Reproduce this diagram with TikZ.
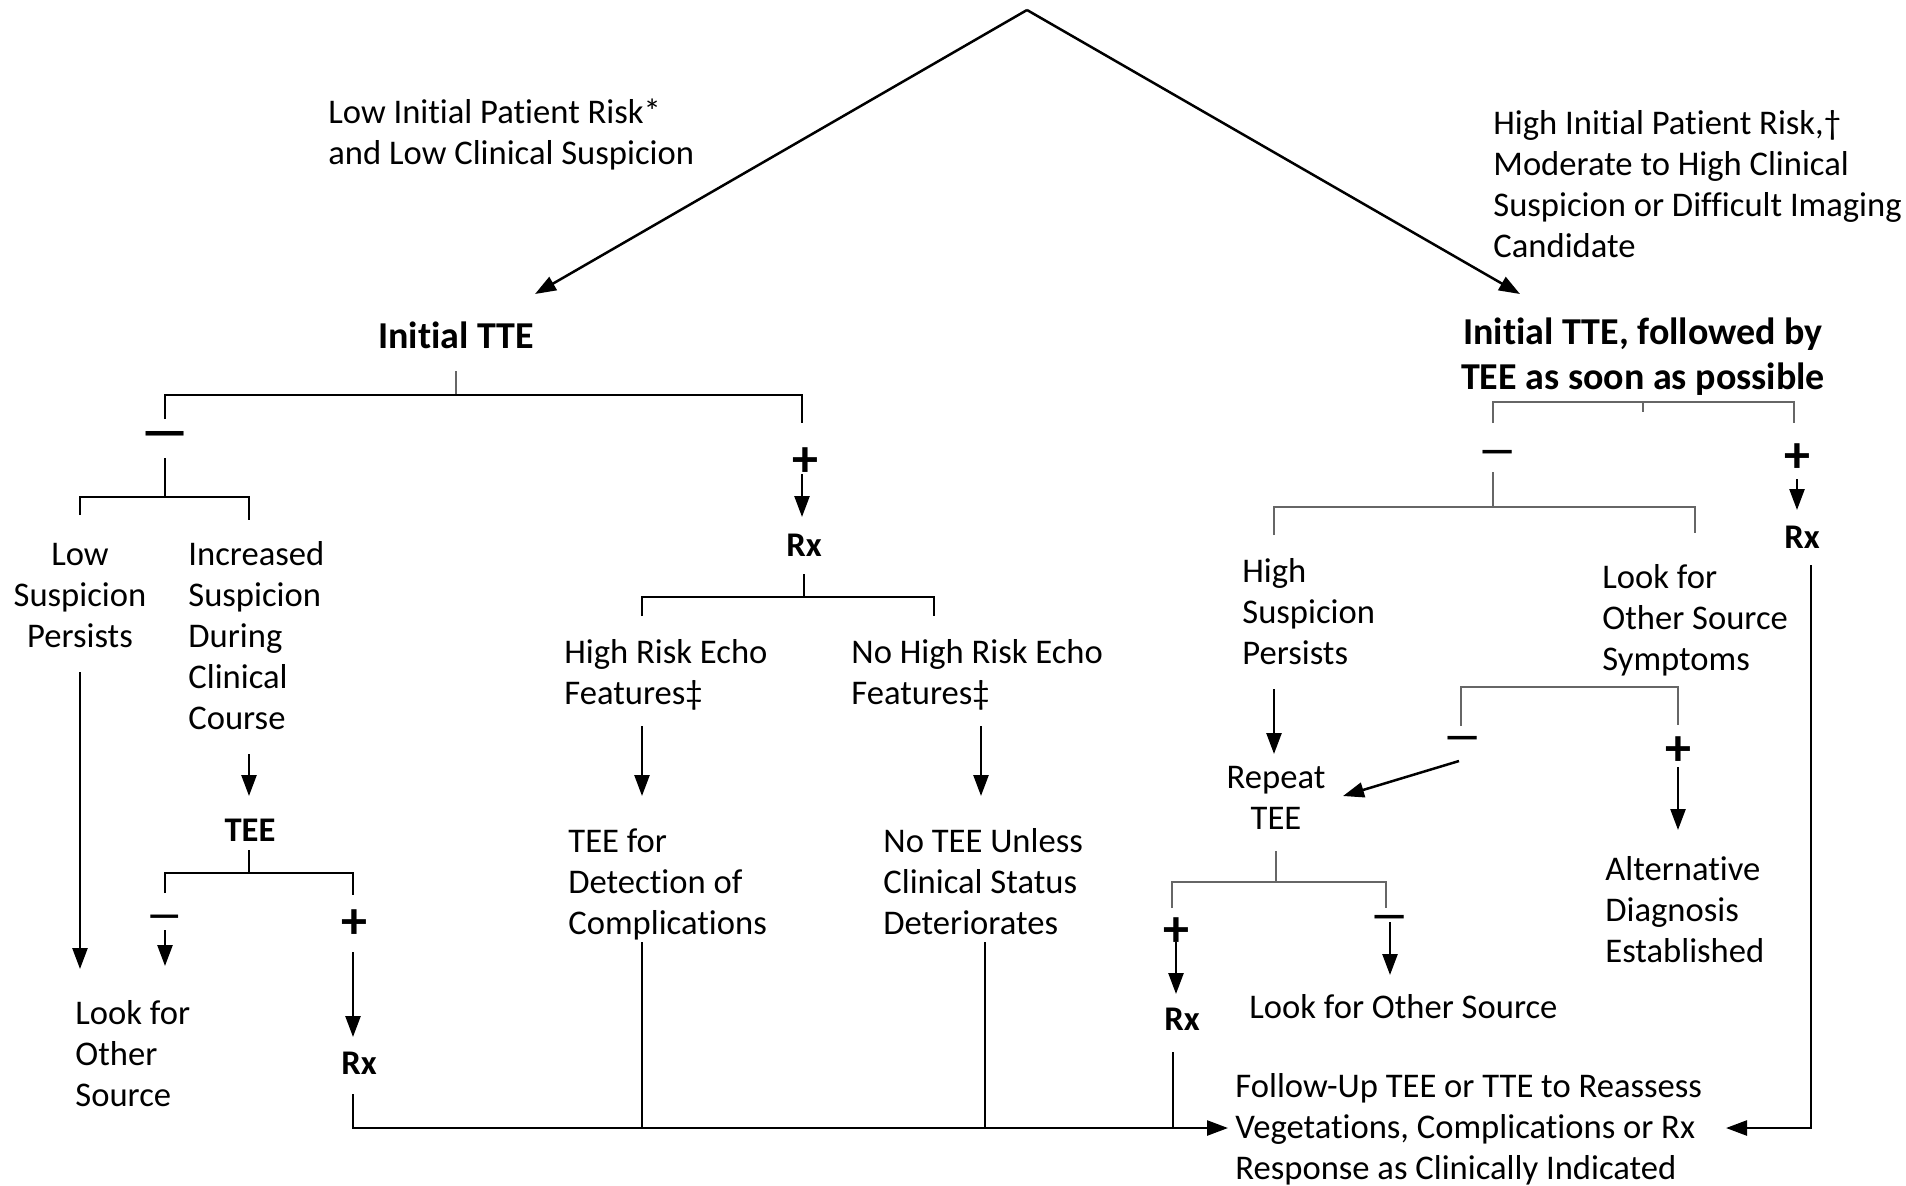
\documentclass[tikz,border=0pt]{standalone}
\usepackage{fontspec}
\setmainfont{Carlito}[Ligatures=NoCommon]
\usetikzlibrary{arrows.meta}
\tikzset{
 txt/.style={font=\fontsize{17.3}{20.5}\selectfont, inner sep=0pt, align=left, anchor=base west},
 ctxt/.style={txt, align=center, anchor=base},
 head/.style={font=\bfseries\fontsize{19}{22.5}\selectfont, inner sep=0pt, align=center, anchor=base},
 bld/.style={font=\bfseries\fontsize{17.3}{20.5}\selectfont, inner sep=0pt, anchor=base},
 sgn/.style={font=\bfseries\fontsize{26}{26}\selectfont, inner sep=0pt, anchor=center},
 msgn/.style={font=\bfseries\fontsize{20}{20}\selectfont, inner sep=0pt, anchor=center},
 arr/.style={line width=1.25pt, -{Triangle[length=10.5pt,width=7.5pt]}},
 ln/.style={line width=1.25pt},
 brk/.style={line width=1pt, black!60},
}
\begin{document}
\begin{tikzpicture}[x=0.5pt,y=-0.5pt]
\useasboundingbox (0,0) rectangle (1906,1185);
% ---------- top ----------
\coordinate (apex) at (1027,10);
\coordinate (aL) at (535,294);
\coordinate (aR) at (1520,294);
\draw[arr] (apex) -- (aL);
\draw[arr] (apex) -- (aR);
\node[txt] (lowrisk) at (328,164) {Low Initial Patient Risk*\\and Low Clinical Suspicion};
\node[txt] (highrisk) at (1493,257) {High Initial Patient Risk,†\\Moderate to High Clinical\\Suspicion or Difficult Imaging\\Candidate};
\node[head] (itte) at (456,348) {Initial TTE};
\node[head] (htte) at (1643,389) {Initial TTE, followed by\\TEE as soon as possible};
% ---------- left tree ----------
\coordinate (b1s) at (456,371);
\coordinate (b1c) at (456,395);
\coordinate (b1l) at (165,395);
\coordinate (b1r) at (802,395);
\coordinate (b1ld) at (165,419);
\coordinate (b1rd) at (802,423);
\draw[brk] (b1s) -- (b1c);
\draw[ln] (b1ld) -- (b1l) -- (b1r) -- (b1rd);
\node[font=\bfseries\fontsize{26}{26}\selectfont, inner sep=0pt] (m1) at (165,440) {—};
\coordinate (b2s) at (165,458);
\coordinate (b2c) at (165,497);
\coordinate (b2l) at (80,497);
\coordinate (b2r) at (249,497);
\coordinate (b2ld) at (80,515);
\coordinate (b2rd) at (249,520);
\draw[ln] (b2s) -- (b2c);
\draw[ln] (b2ld) -- (b2l) -- (b2r) -- (b2rd);
\node[ctxt] (lowsus) at (80,647) {Low\\Suspicion\\Persists};
\node[txt] (incsus) at (188,729) {Increased\\Suspicion\\During\\Clinical\\Course};
\coordinate (a1s) at (80,672);
\coordinate (a1e) at (80,969);
\draw[arr] (a1s) -- (a1e);
\coordinate (a2s) at (249,754);
\coordinate (a2e) at (249,796);
\draw[arr] (a2s) -- (a2e);
\node[bld] (tee1) at (250,841) {TEE};
\coordinate (b3s) at (249,850);
\coordinate (b3c) at (249,873);
\coordinate (b3l) at (165,873);
\coordinate (b3r) at (353,873);
\coordinate (b3ld) at (165,893);
\coordinate (b3rd) at (353,895);
\draw[ln] (b3s) -- (b3c);
\draw[ln] (b3ld) -- (b3l) -- (b3r) -- (b3rd);
\node[font=\bfseries\fontsize{19}{19}\selectfont, inner sep=0pt] (m2) at (165,921) {—};
\coordinate (a3s) at (165,930);
\coordinate (a3e) at (165,966);
\draw[arr] (a3s) -- (a3e);
\node[sgn] (p2) at (354,924) {+};
\coordinate (a4s) at (353,952);
\coordinate (a4e) at (353,1037);
\draw[arr] (a4s) -- (a4e);
\node[bld] (rx1) at (359,1074) {Rx};
\node[txt] (look1) at (75,1106) {Look for\\Other\\Source};
% ---------- centre tree ----------
\node[sgn] (p1) at (805,462) {+};
\coordinate (a5s) at (802,474);
\coordinate (a5e) at (802,517);
\draw[arr] (a5s) -- (a5e);
\node[bld] (rx2) at (804,556) {Rx};
\coordinate (b4s) at (804,574);
\coordinate (b4c) at (804,597);
\coordinate (b4l) at (642,597);
\coordinate (b4r) at (934,597);
\coordinate (b4ld) at (642,616);
\coordinate (b4rd) at (934,616);
\draw[ln] (b4s) -- (b4c);
\draw[ln] (b4ld) -- (b4l) -- (b4r) -- (b4rd);
\node[txt] (hre) at (564,704) {High Risk Echo\\Features‡};
\node[txt] (nhre) at (851,704) {No High Risk Echo\\Features‡};
\coordinate (a6s) at (642,726);
\coordinate (a6e) at (642,796);
\draw[arr] (a6s) -- (a6e);
\coordinate (a7s) at (981,726);
\coordinate (a7e) at (981,796);
\draw[arr] (a7s) -- (a7e);
\node[txt] (teefor) at (568,934) {TEE for\\Detection of\\Complications};
\node[txt] (noteee) at (883,934) {No TEE Unless\\Clinical Status\\Deteriorates};
% ---------- right tree ----------
\coordinate (b5l) at (1493,402);
\coordinate (b5r) at (1794,402);
\coordinate (b5t) at (1643,402);
\coordinate (b5td) at (1643,412);
\coordinate (b5ld) at (1493,423);
\coordinate (b5rd) at (1794,423);
\draw[brk] (b5ld) -- (b5l) -- (b5r) -- (b5rd);
\draw[brk] (b5t) -- (b5td);
\node[msgn] (m3) at (1498,457) {—};
\node[sgn] (p3) at (1797,458) {+};
\coordinate (a8s) at (1797,479);
\coordinate (a8e) at (1797,510);
\draw[arr] (a8s) -- (a8e);
\node[bld] (rx3) at (1802,548) {Rx};
\coordinate (b6s) at (1493,472);
\coordinate (b6c) at (1493,507);
\coordinate (b6l) at (1274,507);
\coordinate (b6r) at (1695,507);
\coordinate (b6ld) at (1274,535);
\coordinate (b6rd) at (1695,533);
\draw[brk] (b6s) -- (b6c);
\draw[brk] (b6ld) -- (b6l) -- (b6r) -- (b6rd);
\node[txt] (hsp) at (1242,664) {High\\Suspicion\\Persists};
\node[txt] (lfos) at (1602,670) {Look for\\Other Source\\Symptoms};
\coordinate (a9s) at (1274,689);
\coordinate (a9e) at (1274,754);
\draw[arr] (a9s) -- (a9e);
\coordinate (b7l) at (1461,687);
\coordinate (b7r) at (1678,687);
\coordinate (b7ld) at (1461,726);
\coordinate (b7rd) at (1678,725);
\draw[brk] (b7ld) -- (b7l) -- (b7r) -- (b7rd);
\node[msgn] (m4) at (1463,743) {—};
\node[sgn] (p4) at (1678,751) {+};
\coordinate (a10s) at (1678,767);
\coordinate (a10e) at (1678,830);
\draw[arr] (a10s) -- (a10e);
\coordinate (a11s) at (1459,761);
\coordinate (a11e) at (1343,796);
\draw[arr] (a11s) -- (a11e);
\node[ctxt] (rtee) at (1276,829) {Repeat\\TEE};
\node[txt] (alt) at (1605,962) {Alternative\\Diagnosis\\Established};
\coordinate (b8s) at (1276,851);
\coordinate (b8c) at (1276,882);
\coordinate (b8l) at (1172,882);
\coordinate (b8r) at (1386,882);
\coordinate (b8ld) at (1172,908);
\coordinate (b8rd) at (1386,908);
\draw[brk] (b8s) -- (b8c);
\draw[brk] (b8ld) -- (b8l) -- (b8r) -- (b8rd);
\node[sgn] (p5) at (1176,932) {+};
\coordinate (a12s) at (1176,942);
\coordinate (a12e) at (1176,994);
\draw[arr] (a12s) -- (a12e);
\node[msgn] (m5) at (1390,922) {—};
\coordinate (a13s) at (1390,922);
\coordinate (a13e) at (1390,975);
\draw[arr] (a13s) -- (a13e);
\node[bld] (rx4) at (1182,1030) {Rx};
\node[txt] (look2) at (1249,1018) {Look for Other Source};
% ---------- bottom ----------
\node[txt] (fu) at (1235,1179) {Follow-Up TEE or TTE to Reassess\\Vegetations, Complications or Rx\\Response as Clinically Indicated};
\coordinate (c1) at (353,1094);
\coordinate (c2) at (353,1128);
\coordinate (c3) at (1228,1128);
\draw[arr] (c1) -- (c2) -- (c3);
\coordinate (d1) at (642,942);
\coordinate (d2) at (642,1128);
\draw[ln] (d1) -- (d2);
\coordinate (e1) at (985,942);
\coordinate (e2) at (985,1128);
\draw[ln] (e1) -- (e2);
\coordinate (f1) at (1173,1052);
\coordinate (f2) at (1173,1128);
\draw[ln] (f1) -- (f2);
\coordinate (g1) at (1811,565);
\coordinate (g2) at (1811,1128);
\coordinate (g3) at (1726,1128);
\draw[arr] (g1) -- (g2) -- (g3);
\end{tikzpicture}
\end{document}
